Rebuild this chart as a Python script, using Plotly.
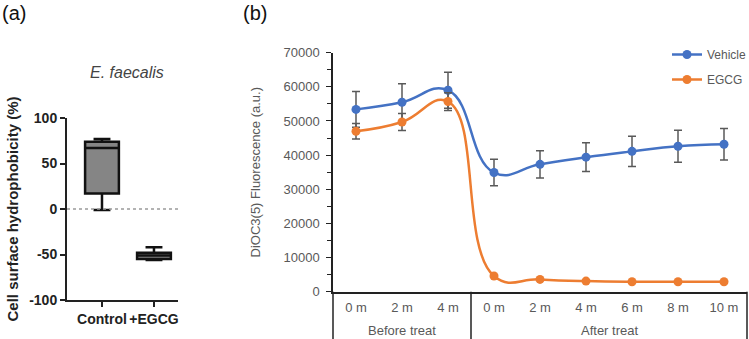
import plotly.graph_objects as go

W, H = 749, 339

# ---------------- Panel (a) data ----------------
box_groups = ["Control", "+EGCG"]
box_lower = [-1, -56]
box_q1 = [17, -55]
box_median = [67, -51]
box_q3 = [74, -48]
box_upper = [77, -42]
a_yticks = [-100, -50, 0, 50, 100]
a_yticktext = ["-100", "-50", "0", "50", "100"]

# ---------------- Panel (b) data ----------------
time_labels = ["0 m", "2 m", "4 m", "0 m", "2 m", "4 m", "6 m", "8 m", "10 m"]
phase_labels = ["Before treat"] * 3 + ["After treat"] * 6
vehicle = [53400, 55500, 59000, 34900, 37300, 39400, 41100, 42600, 43200]
vehicle_err = [5200, 5400, 5300, 3900, 4000, 4200, 4400, 4700, 4600]
egcg = [47000, 49700, 55700, 4600, 3600, 3100, 2900, 2900, 2900]
egcg_err = [2300, 2500, 2600, 300, 200, 200, 200, 200, 200]

xpos = list(range(len(time_labels)))

def px_x(p):
    return p / W

def px_y(p):
    return (H - p) / H

fig = go.Figure()

# Panel (a) boxes
for i, g in enumerate(box_groups):
    fig.add_trace(go.Box(
        x=[g], q1=[box_q1[i]], median=[box_median[i]], q3=[box_q3[i]],
        lowerfence=[box_lower[i]], upperfence=[box_upper[i]],
        fillcolor="#858585", line=dict(color="#111111", width=2.5),
        width=0.65, whiskerwidth=0.5, boxpoints=False,
        xaxis="x", yaxis="y", showlegend=False, hoverinfo="skip",
    ))

# Panel (b) lines
fig.add_trace(go.Scatter(
    x=xpos, y=vehicle, name="Vehicle", mode="lines+markers",
    line=dict(color="#4472C4", width=2.5, shape="spline", smoothing=1.3),
    marker=dict(size=9, color="#4472C4"),
    error_y=dict(type="data", array=vehicle_err, color="#595959", thickness=1.5, width=4),
    xaxis="x2", yaxis="y2", legendgroup="v",
))
fig.add_trace(go.Scatter(
    x=xpos, y=egcg, name="EGCG", mode="lines+markers",
    line=dict(color="#ED7D31", width=2.5, shape="spline", smoothing=1.3),
    marker=dict(size=9, color="#ED7D31"),
    error_y=dict(type="data", array=egcg_err, color="#595959", thickness=1.5, width=4),
    xaxis="x2", yaxis="y2", legendgroup="e",
))

# group labels and dividers
groups = []
for i, p in enumerate(phase_labels):
    if not groups or groups[-1][0] != p:
        groups.append([p, i, i])
    else:
        groups[-1][2] = i

annotations = []
shapes = []
for name, s, e in groups:
    annotations.append(dict(
        text=name, x=(s + e) / 2, xref="x2", y=px_y(330), yref="paper",
        showarrow=False, yanchor="middle",
        font=dict(family="Liberation Sans, Arial", size=13, color="#595959"),
    ))
for name, s, e in groups[1:]:
    shapes.append(dict(type="line", xref="x2", x0=s - 0.5, x1=s - 0.5,
                       yref="paper", y0=px_y(291.7), y1=0,
                       line=dict(color="#222222", width=1.5)))
for xd in (0, 1):
    shapes.append(dict(type="line", xref="x2 domain", x0=xd, x1=xd,
                       yref="paper", y0=px_y(291.7), y1=0,
                       line=dict(color="#222222", width=1.5)))

# dotted zero line panel (a)
shapes.append(dict(type="line", xref="x domain", x0=0, x1=1, yref="y", y0=0, y1=0,
                   line=dict(color="#9a9a9a", width=1.5, dash="dot")))

annotations += [
    dict(text="(a)", x=px_x(0), y=px_y(0), xref="paper", yref="paper",
         xanchor="left", yanchor="top", showarrow=False,
         font=dict(family="Liberation Sans, Arial", size=20, color="#111111")),
    dict(text="(b)", x=px_x(241), y=px_y(0), xref="paper", yref="paper",
         xanchor="left", yanchor="top", showarrow=False,
         font=dict(family="Liberation Sans, Arial", size=20, color="#111111")),
    dict(text="<i>E. faecalis</i>", x=px_x(127), y=px_y(72), xref="paper", yref="paper",
         xanchor="center", yanchor="middle", showarrow=False,
         font=dict(family="Liberation Sans, Arial", size=16, color="#444444")),
]

bold_font = dict(family="Liberation Sans, Arial", size=14, color="#222222", weight="bold")

fig.update_layout(
    width=W, height=H, margin=dict(l=0, r=0, t=0, b=0, autoexpand=False),
    paper_bgcolor="white", plot_bgcolor="white",
    font=dict(family="Liberation Sans, Arial", color="#595959"),
    xaxis=dict(domain=[px_x(67), px_x(178)], type="category",
               range=[-0.673, 1.462], showline=True, linecolor="#222222", linewidth=2,
               ticks="outside", ticklen=5, tickwidth=2, tickcolor="#222222",
               ticklabelstandoff=0, tickangle=0, automargin=False,
               tickfont=bold_font, showgrid=False, zeroline=False, anchor="y"),
    yaxis=dict(domain=[px_y(300), px_y(118)], range=[-100, 100],
               tickvals=a_yticks, ticktext=a_yticktext, automargin=False,
               showline=True, linecolor="#222222", linewidth=2,
               ticks="outside", ticklen=5, tickwidth=2, tickcolor="#222222",
               tickfont=bold_font, showgrid=False, zeroline=False, anchor="x",
               title=dict(text="<b>Cell surface hydrophobicity (%)</b>",
                          font=dict(family="Liberation Sans, Arial", size=15, color="#222222"),
                          standoff=7)),
    xaxis2=dict(domain=[px_x(333), px_x(747)], range=[-0.5, len(time_labels) - 0.5],
                tickvals=xpos, ticktext=time_labels, ticks="", ticklabelstandoff=3,
                tickangle=0, automargin=False,
                showline=True, linecolor="#222222", linewidth=1.5,
                tickfont=dict(family="Liberation Sans, Arial", size=13, color="#595959"),
                showgrid=False, zeroline=False, anchor="y2"),
    yaxis2=dict(domain=[px_y(291.7), px_y(52.7)], range=[0, 70000], dtick=10000,
                tickformat="d", automargin=False, ticklabelstandoff=4,
                showline=True, linecolor="#222222", linewidth=1.5,
                ticks="outside", ticklen=5, tickwidth=1.2, tickcolor="#222222",
                minor=dict(dtick=5000, ticks="outside", ticklen=4, tickwidth=1.2, tickcolor="#222222"),
                tickfont=dict(family="Liberation Sans, Arial", size=13, color="#595959"),
                showgrid=False, zeroline=False, anchor="x2",
                title=dict(text="DiOC3(5) Fluorescence (a.u.)",
                           font=dict(family="Liberation Sans, Arial", size=13, color="#595959"),
                           standoff=20)),
    legend=dict(x=px_x(667), y=px_y(40), xanchor="left", yanchor="top",
                font=dict(family="Liberation Sans, Arial", size=12, color="#595959"),
                tracegroupgap=6, bgcolor="rgba(0,0,0,0)"),
    shapes=shapes, annotations=annotations,
)

fig.write_html("out.html")
